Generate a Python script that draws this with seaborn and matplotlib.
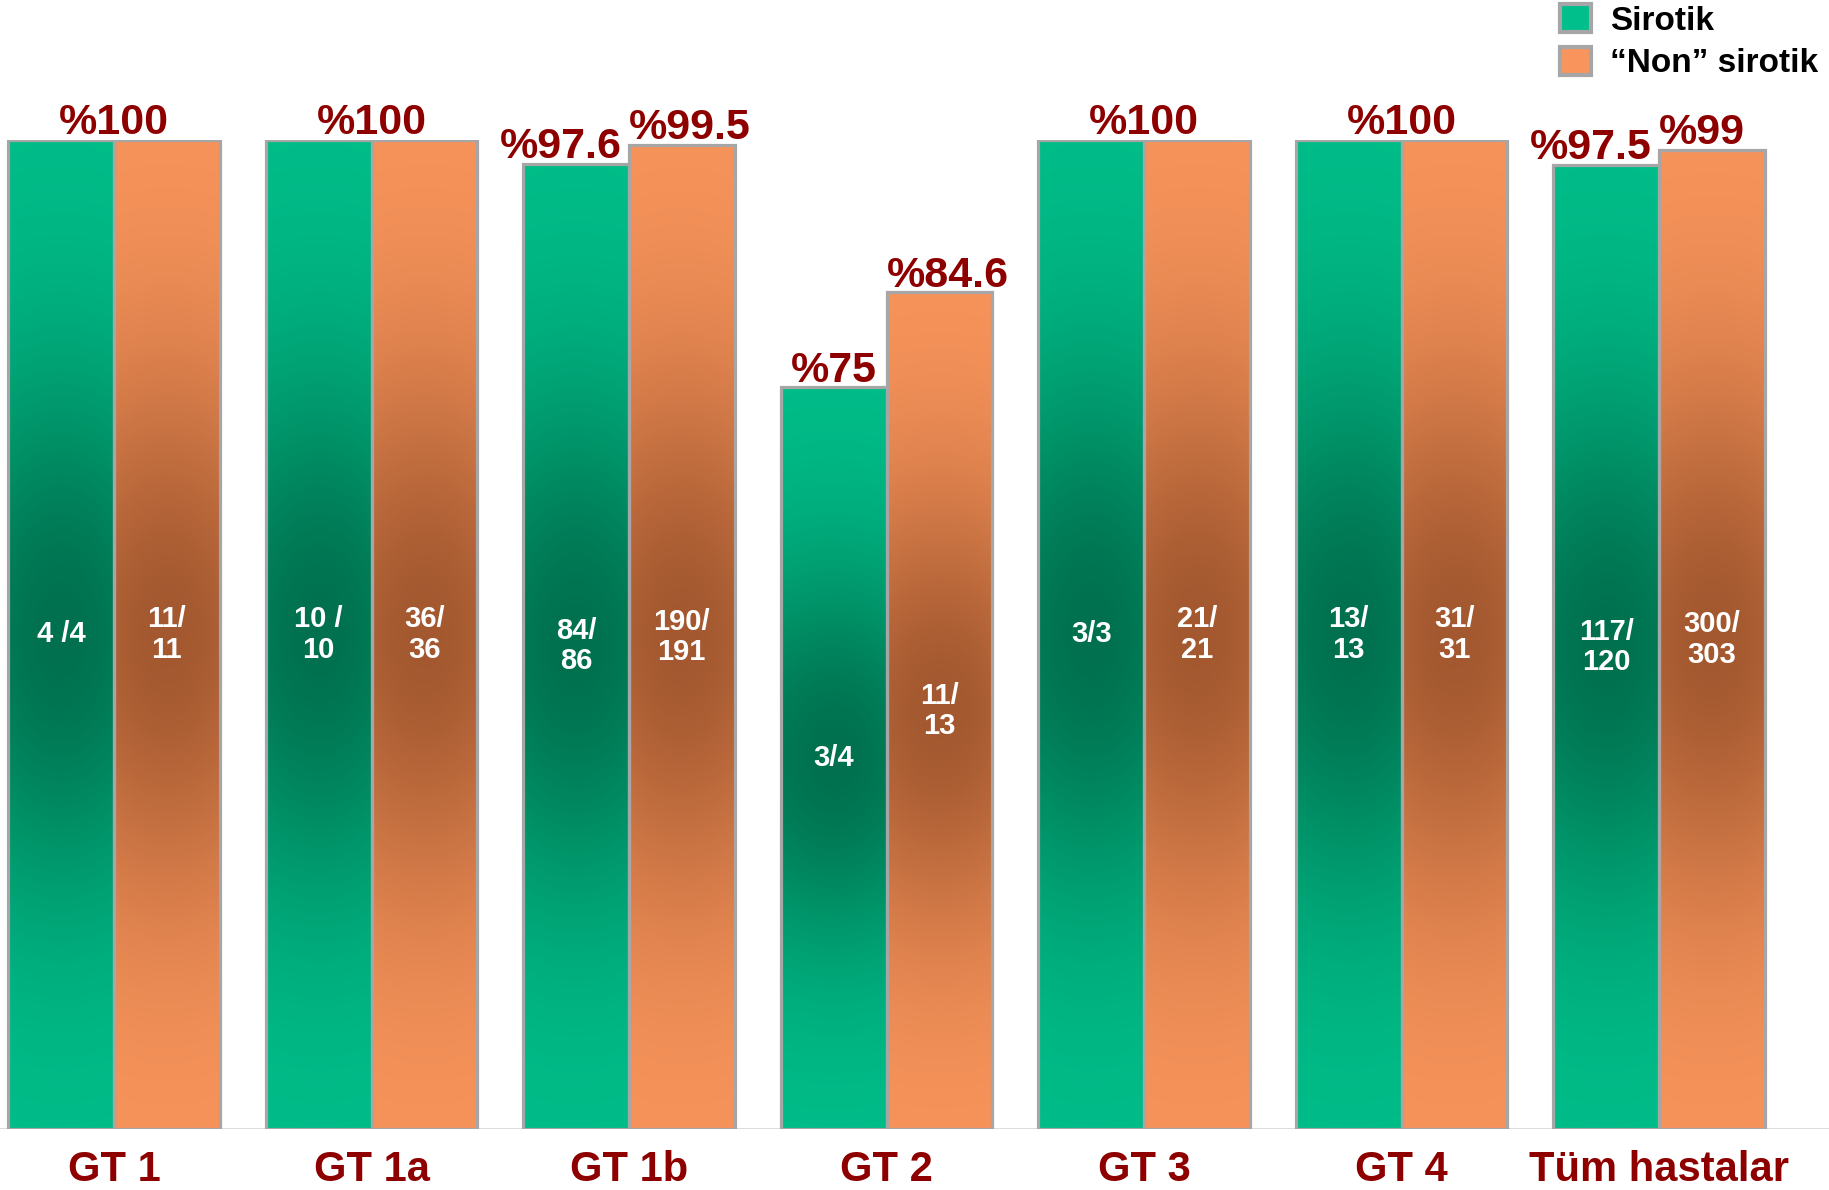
import numpy as np
import pandas as pd
import matplotlib
matplotlib.use("Agg")
import matplotlib.pyplot as plt
import seaborn as sns
from matplotlib.patches import Patch
from matplotlib.colors import to_rgb

# Kalıcı virolojik yanıt oranları (%) ve hasta sayıları
gruplar = ["GT 1", "GT 1a", "GT 1b", "GT 2", "GT 3", "GT 4", "Tüm hastalar"]
seriler = ["Sirotik", "\u201cNon\u201d sirotik"]
sirotik_oran = [100, 100, 97.6, 75, 100, 100, 97.5]
non_sirotik_oran = [100, 100, 99.5, 84.6, 100, 100, 99]
sirotik_n = ["4 /4", "10 /\n10", "84/\n86", "3/4", "3/3", "13/\n13", "117/\n120"]
non_sirotik_n = ["11/\n11", "36/\n36", "190/\n191", "11/\n13", "21/\n21", "31/\n31", "300/\n303"]

df = pd.DataFrame({
    "grup": gruplar * 2,
    "oran": sirotik_oran + non_sirotik_oran,
    "durum": [seriler[0]] * len(gruplar) + [seriler[1]] * len(gruplar),
})

YESIL_ACIK, YESIL_KOYU = "#00BF8A", "#00704E"
TURUNCU_ACIK, TURUNCU_KOYU = "#F9955C", "#A3582F"
KENAR = "#A6A6A6"
KOYU_KIRMIZI = "#8E0000"
FONT = "Liberation Sans"

W, H = 1829, 1190
fig = plt.figure(figsize=(W / 100, H / 100), dpi=100)
taban_px, ust_px = 1129, 140
ax = fig.add_axes([0, 1 - taban_px / H, 1, (taban_px - ust_px) / H])

sns.barplot(data=df, x="grup", y="oran", hue="durum", order=gruplar,
            hue_order=seriler, palette=[YESIL_ACIK, TURUNCU_ACIK],
            width=0.82, edgecolor=KENAR, linewidth=2.3, saturation=1,
            legend=False, ax=ax)

adim = 257.5
x_sol = -114 / adim
ax.set_xlim(x_sol, x_sol + W / adim)
ax.set_ylim(0, 100)


def gradyan_doldur(bar, acik, koyu):
    x0, y0 = bar.get_x(), bar.get_y()
    w, h = bar.get_width(), bar.get_height()
    yy = np.linspace(0, 1, 300)[:, None]
    xx = np.linspace(-1, 1, 60)[None, :]
    u = np.abs(yy - 0.5) * 2
    d = np.exp(-(u / 0.55) ** 2) * (0.88 + 0.12 * (1 - xx ** 2))
    a, k = np.array(to_rgb(acik)), np.array(to_rgb(koyu))
    img = a + (k - a) * d[..., None]
    im = ax.imshow(img, extent=(x0, x0 + w, y0, y0 + h), origin="lower",
                   aspect="auto", interpolation="bilinear",
                   zorder=bar.get_zorder() - 0.1)
    im.set_clip_path(bar)
    bar.set_facecolor("none")


renkler = [(YESIL_ACIK, YESIL_KOYU), (TURUNCU_ACIK, TURUNCU_KOYU)]
for kap, (acik, koyu) in zip(ax.containers, renkler):
    for bar in kap:
        gradyan_doldur(bar, acik, koyu)

ax.set_xlim(x_sol, x_sol + W / adim)
ax.set_ylim(0, 100)
ax.axhline(0, color="#D9D9D9", lw=2, zorder=0.5)


def oran_yazi(v):
    return f"%{v:g}"


yesil_barlar, turuncu_barlar = ax.containers[0], ax.containers[1]
for i in range(len(gruplar)):
    bs, bn = yesil_barlar[i], turuncu_barlar[i]
    vs, vn = sirotik_oran[i], non_sirotik_oran[i]
    ortak = dict(color=KOYU_KIRMIZI, fontsize=31, fontweight="bold",
                 family=FONT, va="baseline", textcoords="offset points",
                 clip_on=False)
    if vs == vn:
        ax.annotate(oran_yazi(vs), (i, vs), xytext=(0, 4), ha="center", **ortak)
    elif abs(vs - vn) < 5:
        # yakın değerler: yazılar grup ortasında yan yana
        ax.annotate(oran_yazi(vs), (i, vs), xytext=(-5, 4), ha="right", **ortak)
        ax.annotate(oran_yazi(vn), (i, vn), xytext=(0, 4), ha="left", **ortak)
    else:
        ax.annotate(oran_yazi(vs), (bs.get_x() + bs.get_width() / 2, vs),
                    xytext=(0, 4), ha="center", **ortak)
        ax.annotate(oran_yazi(vn), (bn.get_x() + bn.get_width() / 2, vn),
                    xytext=(6, 4), ha="center", **ortak)
    for bar, etiket in ((bs, sirotik_n[i]), (bn, non_sirotik_n[i])):
        ax.text(bar.get_x() + bar.get_width() / 2, bar.get_height() / 2, etiket,
                color="white", fontsize=21, fontweight="bold", family=FONT,
                ha="center", va="center", linespacing=1.1, zorder=5)

ax.set_xticks(range(len(gruplar)))
ax.set_xticklabels(gruplar, color=KOYU_KIRMIZI, fontsize=30,
                   fontweight="bold", family=FONT)
ax.tick_params(axis="x", length=0, pad=15)
ax.set_yticks([])
ax.set_xlabel("")
ax.set_ylabel("")
for s in ax.spines.values():
    s.set_visible(False)
ax.patch.set_alpha(0)

tutamaklar = [Patch(facecolor=YESIL_ACIK, edgecolor=KENAR, linewidth=3),
              Patch(facecolor=TURUNCU_ACIK, edgecolor=KENAR, linewidth=3)]
fig.legend(handles=tutamaklar, labels=seriler, loc="upper left",
           bbox_to_anchor=(1558 / W, 1 - 2 / H), bbox_transform=fig.transFigure,
           frameon=False, prop=dict(family=FONT, weight="bold", size=24),
           handlelength=0.95, handleheight=0.95, handletextpad=0.55,
           labelspacing=0.3, borderpad=0.05, borderaxespad=0)

fig.savefig("out.png", dpi=100)
